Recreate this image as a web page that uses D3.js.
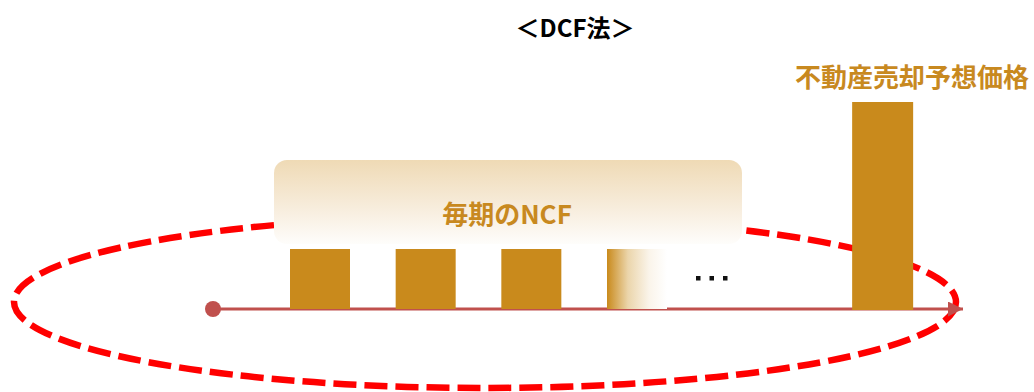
<!DOCTYPE html>
<html>
<head>
<meta charset="utf-8">
<script src="https://cdn.jsdelivr.net/npm/d3@7"></script>
<style>
  body { margin: 0; background: #fff; }
  svg { display: block; }
  text { font-family: "Noto Sans CJK JP", "Noto Sans", sans-serif; font-weight: bold; }
</style>
</head>
<body>
<script>
// data
var title = "＜DCF法＞";
var ncfLabel = "毎期のNCF";
var saleLabel = "不動産売却予想価格";
var periods = [1, 2, 3, 4];
var ncfValues = [1, 1, 1, 1];
var salePeriod = 6.32;
var saleValue = 3.45;

var W = 1034, H = 392;
var gold = "#c98a1c";

var svg = d3.select("body").append("svg")
  .attr("width", W)
  .attr("height", H);

var defs = svg.append("defs");

var boxGrad = defs.append("linearGradient")
  .attr("id", "boxGrad")
  .attr("x1", 0).attr("y1", 0).attr("x2", 0).attr("y2", 1);
boxGrad.append("stop").attr("offset", "0%").attr("stop-color", "#efdab5");
boxGrad.append("stop").attr("offset", "55%").attr("stop-color", "#f7ecdb");
boxGrad.append("stop").attr("offset", "100%").attr("stop-color", "#fefdfb");

var fadeGrad = defs.append("linearGradient")
  .attr("id", "fadeGrad")
  .attr("x1", 0).attr("y1", 0).attr("x2", 1).attr("y2", 0);
fadeGrad.append("stop").attr("offset", "0%").attr("stop-color", gold);
fadeGrad.append("stop").attr("offset", "35%").attr("stop-color", "#ebd5ab");
fadeGrad.append("stop").attr("offset", "70%").attr("stop-color", "#faf4ea");
fadeGrad.append("stop").attr("offset", "100%").attr("stop-color", "#ffffff");

defs.append("marker")
  .attr("id", "arrow")
  .attr("viewBox", "0 0 10 10")
  .attr("refX", 10).attr("refY", 5)
  .attr("markerWidth", 5).attr("markerHeight", 5)
  .attr("markerUnits", "strokeWidth")
  .attr("orient", "auto")
  .append("path")
  .attr("d", "M0,0L10,5L0,10Z")
  .attr("fill", "#c0504d");

// scales
var x = d3.scaleLinear().domain([1, 4]).range([290, 607]);
var y = d3.scaleLinear().domain([0, 1]).range([309, 249]);
var barW = 60;

// title
svg.append("text")
  .attr("x", 575).attr("y", 37)
  .attr("text-anchor", "middle")
  .attr("font-size", 24)
  .attr("fill", "#000")
  .text(title);

// dashed ellipse
svg.append("ellipse")
  .attr("cx", 485).attr("cy", 302)
  .attr("rx", 471).attr("ry", 86)
  .attr("fill", "none")
  .attr("stroke", "#ff0000")
  .attr("stroke-width", 6.5)
  .attr("stroke-dasharray", "23,8");

// NCF box
svg.append("rect")
  .attr("x", 274).attr("y", 160)
  .attr("width", 468).attr("height", 84)
  .attr("rx", 13).attr("ry", 13)
  .attr("fill", "url(#boxGrad)");

svg.append("text")
  .attr("x", 507).attr("y", 224)
  .attr("text-anchor", "middle")
  .attr("font-size", 26)
  .attr("fill", "#c8891f")
  .text(ncfLabel);

// time axis
svg.append("line")
  .attr("x1", 213).attr("y1", y(0))
  .attr("x2", 963).attr("y2", y(0))
  .attr("stroke", "#c0504d")
  .attr("stroke-width", 3)
  .attr("marker-end", "url(#arrow)");

svg.append("circle")
  .attr("cx", 213).attr("cy", y(0))
  .attr("r", 8)
  .attr("fill", "#c0504d");

// yearly NCF bars
svg.selectAll("rect.ncf")
  .data(ncfValues)
  .enter().append("rect")
  .attr("class", "ncf")
  .attr("x", function(d, i) { return x(periods[i]); })
  .attr("y", function(d) { return y(d); })
  .attr("width", barW)
  .attr("height", function(d) { return y(0) - y(d); })
  .attr("fill", function(d, i) { return i === periods.length - 1 ? "url(#fadeGrad)" : gold; });

// ellipsis
svg.selectAll("rect.dot")
  .data([0, 1, 2])
  .enter().append("rect")
  .attr("class", "dot")
  .attr("x", function(d) { return 696 + d * 13.5; })
  .attr("y", 276)
  .attr("width", 4.5).attr("height", 4.5)
  .attr("fill", "#111");

// sale price bar
svg.append("rect")
  .attr("x", x(salePeriod))
  .attr("y", y(saleValue))
  .attr("width", barW + 1)
  .attr("height", y(0) - y(saleValue) + 1)
  .attr("fill", gold);

svg.append("text")
  .attr("x", 912).attr("y", 87)
  .attr("text-anchor", "middle")
  .attr("font-size", 26)
  .attr("fill", "#c8891f")
  .text(saleLabel);
</script>
</body>
</html>
